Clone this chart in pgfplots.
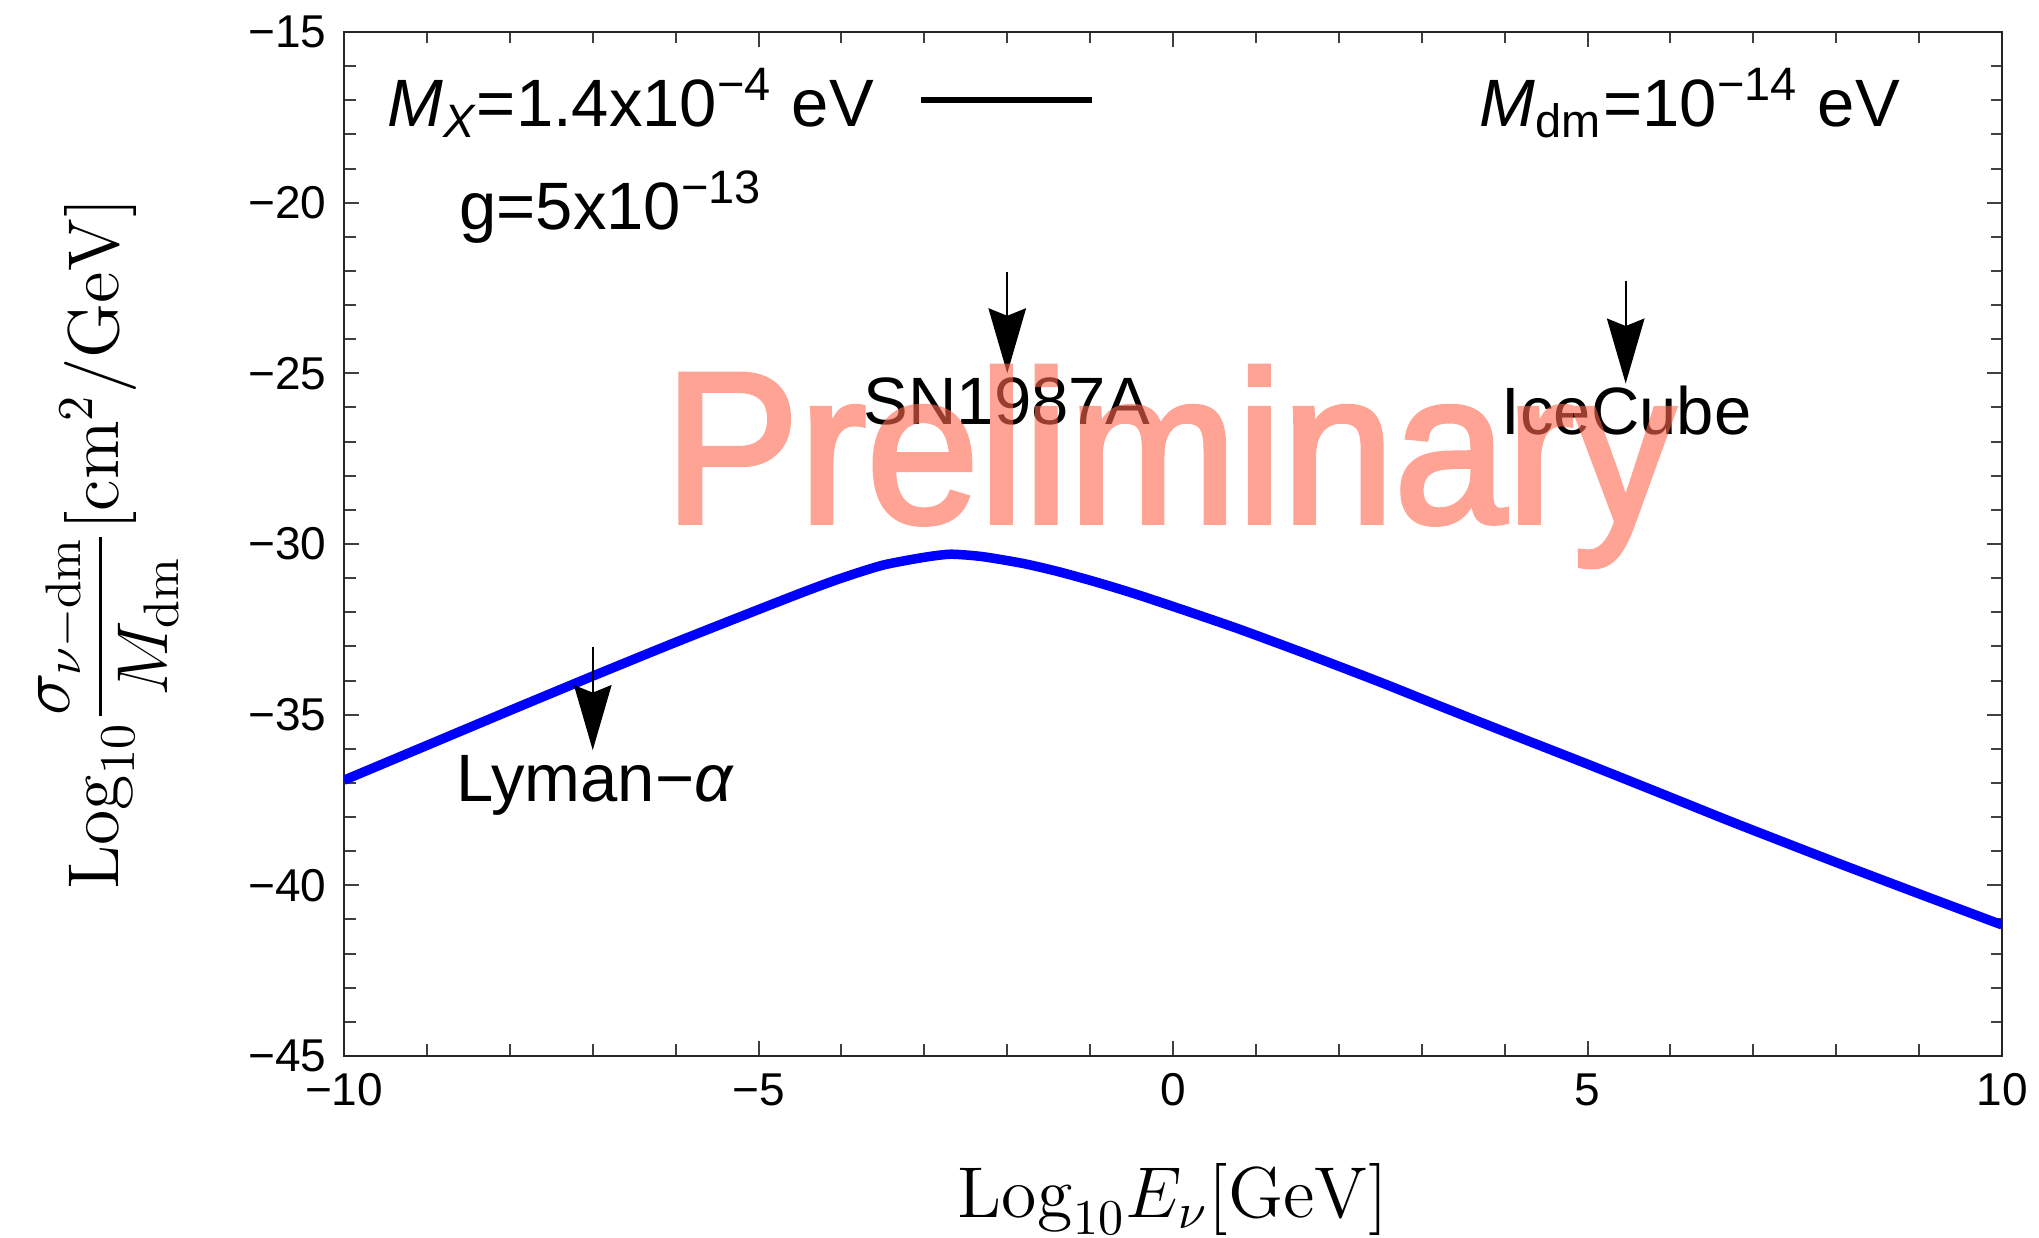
\documentclass[border=0pt]{standalone}
\usepackage[no-math]{fontspec}
\setmainfont{Liberation Sans}
\newfontfamily\wmfont{Liberation Sans}[FakeBold=2.5]
\usepackage{amsmath}
\usepackage{pgfplots}
\pgfplotsset{compat=1.18}
\usetikzlibrary{arrows.meta}
\definecolor{wm}{RGB}{255,102,77}
\newcommand\annot{\fontsize{13.4}{16}\selectfont}

\pgfplotstableread{
x y
-10 -36.92
-9 -35.90
-8 -34.88
-7 -33.87
-6 -32.88
-5 -31.92
-4.45 -31.40
-4 -31.00
-3.5 -30.62
-3.0 -30.39
-2.68 -30.30
-2.3 -30.37
-1.81 -30.57
-1.4 -30.80
-0.95 -31.10
-0.5 -31.43
0 -31.83
0.77 -32.47
1.64 -33.25
2.5 -34.05
3.22 -34.75
4 -35.50
5 -36.45
6 -37.42
6.79 -38.19
8 -39.33
9 -40.25
10 -41.16
}\curve

\begin{document}
\begin{tikzpicture}
\begin{axis}[
  scale only axis,
  width=331.6pt, height=204.8pt,
  xmin=-10, xmax=10, ymin=-45, ymax=-15,
  xtick={-10,-5,0,5,10},
  xticklabels={−10,−5,0,5,10},
  ytick={-45,-40,-35,-30,-25,-20,-15},
  yticklabels={−45,−40,−35,−30,−25,−20,−15},
  minor x tick num=4, minor y tick num=4,
  tick align=inside,
  major tick length=3pt, minor tick length=2.3pt,
  tick style={black!75, line width=0.4pt},
  axis line style={black!85, line width=0.45pt},
  ticklabel style={font=\fontsize{9.2}{11}\selectfont},
  xlabel={$\mathrm{Log}_{10}E_{\nu}[\mathrm{GeV}]$},
  ylabel={$\mathrm{Log}_{10}\dfrac{\sigma_{\nu{-}\mathrm{dm}}}{M_{\mathrm{dm}}}[\mathrm{cm}^2/\mathrm{GeV}]$},
  xlabel style={font=\fontsize{14.2}{17}\selectfont, at={(axis description cs:0.5,-0.1582)}, anchor=base},
  ylabel style={font=\fontsize{14.4}{17}\selectfont, at={(axis description cs:-0.142,0.5)}, anchor=center},
]
\addplot[color={rgb,255:red,0;green,0;blue,255}, line width=1.9pt, smooth, tension=0.4] table[x=x,y=y] {\curve};

\coordinate (bbsw) at (rel axis cs:-0.2075,-0.1768);
\coordinate (bbne) at (rel axis cs:1.0223,1.03125);
\coordinate (wmpos) at (axis cs:-0.04,-29.36);

% top annotations
\node[anchor=base west, font=\annot, inner sep=0pt] at (axis cs:-9.49,-17.78)
  {{\itshape M}\textsubscript{\itshape X}=1.4x10\textsuperscript{−4} eV};
\draw[black, line width=1.3pt] (axis cs:-3.04,-16.99) -- (axis cs:-0.98,-16.99);
\node[anchor=base west, font=\annot, inner sep=0pt] at (axis cs:-8.62,-20.80)
  {g=5x10\textsuperscript{−13}};
\node[anchor=base west, font=\annot, inner sep=0pt] at (axis cs:3.69,-17.78)
  {{\itshape M}\textsubscript{dm}=10\textsuperscript{−14} eV};

% arrows and labels
\draw[line width=0.45pt, -{Stealth[length=13pt,width=7.5pt,inset=1.5pt]}] (axis cs:-7,-33.02) -- (axis cs:-7,-36.04);
\node[anchor=base, font=\annot, inner sep=0pt] at (axis cs:-6.98,-37.55) {Lyman−{\itshape α}};

\draw[line width=0.45pt, -{Stealth[length=13pt,width=7.5pt,inset=1.5pt]}] (axis cs:-2,-22.02) -- (axis cs:-2,-25.0);
\node[anchor=base, font=\annot, inner sep=0pt] at (axis cs:-2.0,-26.5) {SN1987A};

\draw[line width=0.45pt, -{Stealth[length=13pt,width=7.5pt,inset=1.5pt]}] (axis cs:5.46,-22.3) -- (axis cs:5.46,-25.3);
\node[anchor=base, font=\annot, inner sep=0pt] at (axis cs:5.47,-26.8) {IceCube};
\end{axis}
% watermark
\begin{scope}[transparency group, opacity=0.6]
\node[text=wm, font=\wmfont\fontsize{43}{50}\selectfont, xscale=0.94, anchor=base, inner sep=0pt] at (wmpos) {Preliminary};
\end{scope}
\pgfresetboundingbox
\path (bbsw) rectangle (bbne);
\end{tikzpicture}
\end{document}
